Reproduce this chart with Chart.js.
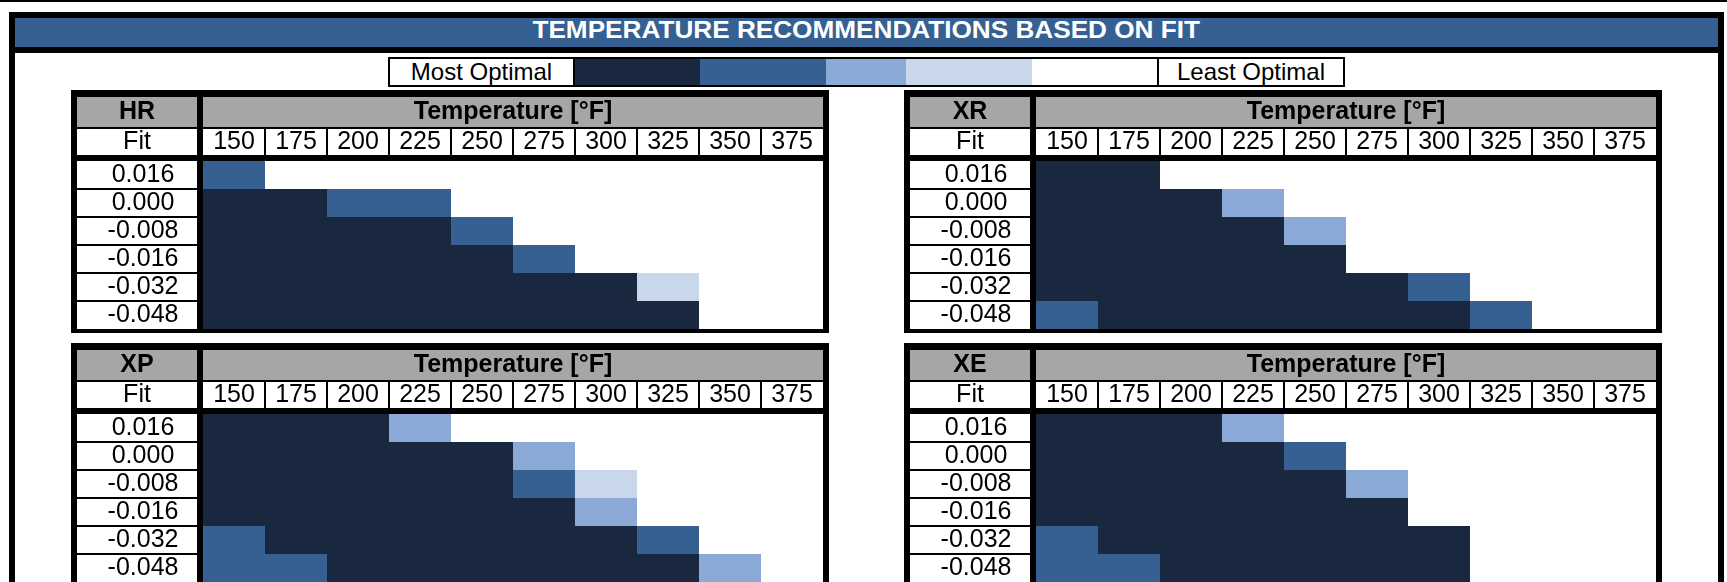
<!DOCTYPE html>
<html lang="en">
<head>
<meta charset="utf-8">
<title>Temperature Recommendations Based on Fit</title>
<script src="https://cdn.jsdelivr.net/npm/chart.js@4.4.1/dist/chart.umd.min.js"></script>
<style>
    html, body { margin: 0; padding: 0; background: #fff; }
    body {
        position: relative; width: 1727px; height: 582px; overflow: hidden;
        font-family: 'Liberation Sans', Arial, sans-serif; color: #000;
    }
    .top-rule { position: absolute; left: 0; top: 0; width: 1727px; height: 2px; background: #000; }
    .frame {
        position: absolute; left: 9px; top: 12px; width: 1715px; height: 640px;
        border: 6px solid #000; box-sizing: border-box; background: #fff;
    }
    .title-bar {
        position: absolute; left: 15px; top: 18px; width: 1703px; height: 29px;
        background: #366092; color: #fff; text-align: center;
        font-size: 24px; font-weight: bold; line-height: 23px;
    }
    .title-bar span { display: inline-block; transform: scaleX(1.09); }
    .title-rule { position: absolute; left: 15px; top: 47px; width: 1703px; height: 6px; background: #000; }
    .legend {
        position: absolute; left: 388px; top: 57px; height: 30px;
        display: flex; border: 2px solid #000; box-sizing: border-box;
    }
    .legend .end { height: 26px; font-size: 24px; line-height: 26px; text-align: center; background: #fff; }
    .legend .end.first { width: 183px; border-right: 2px solid #000; }
    .legend .end.last { width: 184px; border-left: 2px solid #000; }
    .legend .swatch { height: 26px; }
    canvas.fit-table { position: absolute; }
</style>
</head>
<body>
<div class="top-rule"></div>
<div class="frame"></div>
<div class="title-bar"><span>TEMPERATURE RECOMMENDATIONS BASED ON FIT</span></div>
<div class="title-rule"></div>
<div class="legend" id="legend"></div>

<canvas id="tblHR" class="fit-table" width="758" height="243" style="left:71px; top:90px;"></canvas>
<canvas id="tblXR" class="fit-table" width="758" height="243" style="left:904px; top:90px;"></canvas>
<canvas id="tblXP" class="fit-table" width="758" height="243" style="left:71px; top:343px;"></canvas>
<canvas id="tblXE" class="fit-table" width="758" height="243" style="left:904px; top:343px;"></canvas>

<script>
// --- DATA ---
const fits = ['0.016', '0.000', '-0.008', '-0.016', '-0.032', '-0.048'];
const temps = ['150', '175', '200', '225', '250', '275', '300', '325', '350', '375'];

// level per cell: 0 = most optimal ... 4 = least optimal (one row per fit)
const hr = [
    [1, 4, 4, 4, 4, 4, 4, 4, 4, 4],
    [0, 0, 1, 1, 4, 4, 4, 4, 4, 4],
    [0, 0, 0, 0, 1, 4, 4, 4, 4, 4],
    [0, 0, 0, 0, 0, 1, 4, 4, 4, 4],
    [0, 0, 0, 0, 0, 0, 0, 3, 4, 4],
    [0, 0, 0, 0, 0, 0, 0, 0, 4, 4]
];
const xr = [
    [0, 0, 4, 4, 4, 4, 4, 4, 4, 4],
    [0, 0, 0, 2, 4, 4, 4, 4, 4, 4],
    [0, 0, 0, 0, 2, 4, 4, 4, 4, 4],
    [0, 0, 0, 0, 0, 4, 4, 4, 4, 4],
    [0, 0, 0, 0, 0, 0, 1, 4, 4, 4],
    [1, 0, 0, 0, 0, 0, 0, 1, 4, 4]
];
const xp = [
    [0, 0, 0, 2, 4, 4, 4, 4, 4, 4],
    [0, 0, 0, 0, 0, 2, 4, 4, 4, 4],
    [0, 0, 0, 0, 0, 1, 3, 4, 4, 4],
    [0, 0, 0, 0, 0, 0, 2, 4, 4, 4],
    [1, 0, 0, 0, 0, 0, 0, 1, 4, 4],
    [1, 1, 0, 0, 0, 0, 0, 0, 2, 4]
];
const xe = [
    [0, 0, 0, 2, 4, 4, 4, 4, 4, 4],
    [0, 0, 0, 0, 1, 4, 4, 4, 4, 4],
    [0, 0, 0, 0, 0, 2, 4, 4, 4, 4],
    [0, 0, 0, 0, 0, 0, 4, 4, 4, 4],
    [1, 0, 0, 0, 0, 0, 0, 4, 4, 4],
    [1, 1, 0, 0, 0, 0, 0, 4, 4, 4]
];

const levelColors = ['#1A283F', '#366092', '#8AA9D6', '#C9D7EA', '#FFFFFF'];
const legendEnds = ['Most Optimal', 'Least Optimal'];

// --- STYLE ---
const FONT = "'Liberation Sans', Arial, sans-serif";
const GRAY = '#A6A6A6';
const swatchWidths = [125, 126, 80, 126, 125];
const CELL = { edge: 6, headTop: 7, headH: 30, rule: 2, labelW: 126, axisH: 71, line: 2 };

// draws the black grid, gray header and white label boxes behind the axes
const tableFrame = {
    id: 'tableFrame',
    beforeDraw(chart, args, opts) {
        const { ctx, chartArea: ca, width, height } = chart;
        const x = chart.scales.x, y = chart.scales.y;
        const labL = CELL.edge, labR = ca.left - CELL.edge;
        const fitTop = CELL.headTop + CELL.headH + CELL.rule;
        const fitBot = ca.top - CELL.edge;
        const band = (ca.bottom - ca.top) / fits.length;
        const half = CELL.line / 2;

        ctx.save();
        ctx.fillStyle = '#000';
        ctx.fillRect(0, 0, width, height);

        // header row
        ctx.fillStyle = GRAY;
        ctx.fillRect(labL, CELL.headTop, labR - labL, CELL.headH);
        ctx.fillRect(ca.left, CELL.headTop, ca.right - ca.left, CELL.headH);

        // Fit row
        ctx.fillStyle = '#fff';
        ctx.fillRect(labL, fitTop, labR - labL, fitBot - fitTop);
        temps.forEach((t, i) => {
            const x0 = x.getPixelForValue(i) + (i > 0 ? half : 0);
            const x1 = x.getPixelForValue(i + 1) - (i < temps.length - 1 ? half : 0);
            ctx.fillRect(x0, fitTop, x1 - x0, fitBot - fitTop);
        });

        // fit label boxes
        fits.forEach((f, r) => {
            const yc = y.getPixelForValue(r);
            const y0 = yc - band / 2 + (r > 0 ? half : 0);
            const y1 = yc + band / 2 - (r < fits.length - 1 ? half : 0);
            ctx.fillRect(labL, y0, labR - labL, y1 - y0);
        });

        // cell area
        ctx.fillRect(ca.left, ca.top, ca.right - ca.left, ca.bottom - ca.top);

        // corner texts
        const cx = (labL + labR) / 2;
        ctx.fillStyle = '#000';
        ctx.textAlign = 'center';
        ctx.textBaseline = 'middle';
        ctx.font = `bold 25px ${FONT}`;
        ctx.fillText(opts.name, cx, CELL.headTop + CELL.headH / 2);
        ctx.font = `25px ${FONT}`;
        ctx.fillText('Fit', cx, (fitTop + fitBot) / 2);
        ctx.restore();
    }
};

const Board = {
    init() {
        this.renderLegend();
        const widest = this.measure(fits, `25px ${FONT}`);
        this.renderTable('tblHR', 'HR', hr, widest);
        this.renderTable('tblXR', 'XR', xr, widest);
        this.renderTable('tblXP', 'XP', xp, widest);
        this.renderTable('tblXE', 'XE', xe, widest);
    },

    measure(labels, font) {
        const ctx = document.createElement('canvas').getContext('2d');
        ctx.font = font;
        return Math.max(...labels.map(l => ctx.measureText(l).width));
    },

    renderLegend() {
        const box = document.getElementById('legend');
        box.innerHTML = `<div class="end first">${legendEnds[0]}</div>` +
            levelColors.map((c, i) => `<div class="swatch" style="width:${swatchWidths[i]}px; background:${c}"></div>`).join('') +
            `<div class="end last">${legendEnds[1]}</div>`;
    },

    renderTable(id, name, levels, widest) {
        // one stacked dataset per temperature column, one unit per fit row
        const datasets = temps.map((t, j) => ({
            label: t,
            data: fits.map(() => 1),
            backgroundColor: levels.map(row => levelColors[row[j]]),
            borderWidth: 0,
            barPercentage: 1,
            categoryPercentage: 1,
            inflateAmount: 0
        }));

        const tickFont = { family: FONT, size: 25 };
        const labelCenter = (CELL.labelW - CELL.edge) / 2 + CELL.edge;

        new Chart(document.getElementById(id), {
            type: 'bar',
            data: { labels: fits, datasets },
            options: {
                indexAxis: 'y',
                responsive: false,
                animation: false,
                devicePixelRatio: 1,
                events: [],
                layout: { padding: { left: CELL.edge, right: CELL.edge, top: 0, bottom: 4 } },
                plugins: {
                    legend: { display: false },
                    tooltip: { enabled: false },
                    tableFrame: { name }
                },
                scales: {
                    x: { type: 'linear', min: 0, max: temps.length, stacked: true, display: false },
                    y: {
                        type: 'category', stacked: true, position: 'left',
                        grid: { display: false, drawTicks: false },
                        border: { display: false },
                        ticks: {
                            font: tickFont, color: '#000', autoSkip: false,
                            crossAlign: 'center',
                            padding: CELL.labelW - labelCenter - widest / 2
                        },
                        afterFit(scale) {
                            scale.width = CELL.labelW;
                            scale.paddingTop = 0;
                            scale.paddingBottom = 0;
                        }
                    },
                    xt: {
                        type: 'category', labels: temps, offset: true, position: 'top',
                        grid: { display: false, drawTicks: false },
                        border: { display: false },
                        ticks: { font: tickFont, color: '#000', padding: 4, autoSkip: false, maxRotation: 0 },
                        title: {
                            display: true, text: 'Temperature [°F]', color: '#000',
                            font: { family: FONT, size: 25, weight: 'bold' },
                            padding: { top: 7, bottom: 0 }
                        },
                        afterFit(scale) {
                            scale.height = CELL.axisH;
                            scale.paddingLeft = 0;
                            scale.paddingRight = 0;
                        }
                    }
                }
            },
            plugins: [tableFrame]
        });
    }
};

document.addEventListener('DOMContentLoaded', () => Board.init());
</script>
</body>
</html>
